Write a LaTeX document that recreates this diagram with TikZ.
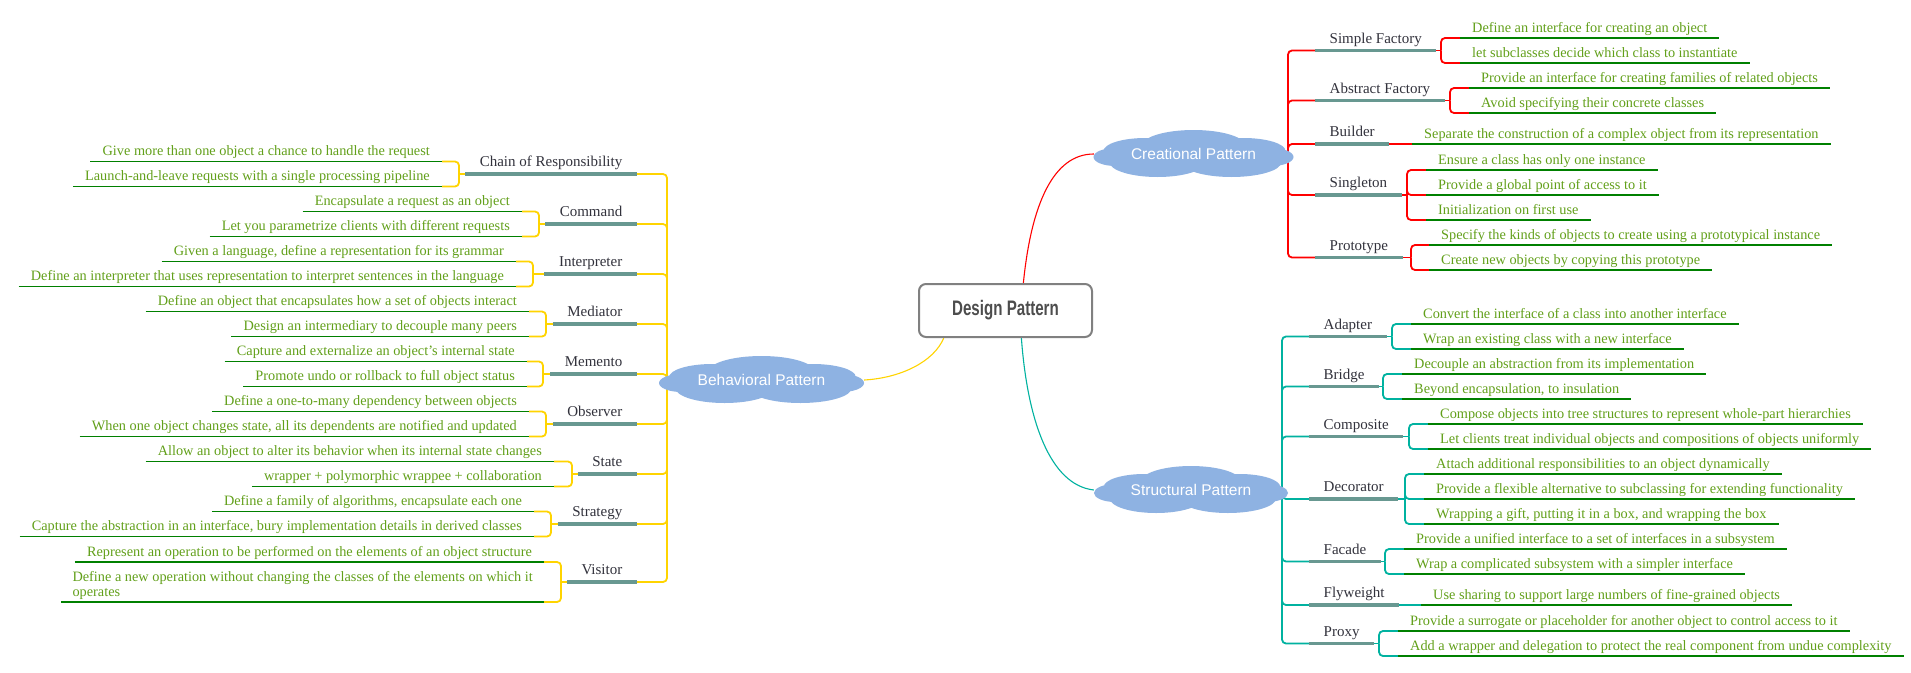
\documentclass[tikz,border=0pt]{standalone}
\usepackage{fontspec}
\setmainfont{Liberation Serif}
\newfontfamily\sansf{Liberation Sans}
\usepackage{graphicx}
\usetikzlibrary{backgrounds,calc}
\definecolor{cred}{RGB}{255,0,0}
\definecolor{cteal}{RGB}{0,178,160}
\definecolor{cyel}{RGB}{255,212,0}
\definecolor{cbar}{RGB}{104,152,145}
\definecolor{cgreen}{RGB}{0,128,0}
\definecolor{cleaf}{RGB}{98,160,26}
\definecolor{clabel}{RGB}{50,50,60}
\definecolor{ccloud}{RGB}{142,178,226}
\definecolor{cbox}{RGB}{128,128,128}
\definecolor{cboxt}{RGB}{77,77,77}
\tikzset{
 leafbase/.style={text=cleaf, font=\fontsize{14.3}{15}\selectfont, inner xsep=12pt, inner ysep=1.5pt, text depth=4pt},
 leafR/.style={leafbase, anchor=south west},
 leafL/.style={leafbase, anchor=south east},
 leafML/.style={text=cleaf, font=\fontsize{14.3}{15}\selectfont, inner xsep=11pt, inner ysep=2pt, anchor=south east, align=left},
 kidbase/.style={text=clabel, font=\fontsize{15}{17}\selectfont, inner xsep=14.5pt, inner ysep=3pt, text depth=4pt},
 kidR/.style={kidbase, anchor=south west},
 kidL/.style={kidbase, anchor=south east},
 cloudnode/.style={rectangle, draw=none, text=white, font=\sansf\fontsize{15.5}{18}\selectfont, inner sep=0pt},
 conn/.style={line width=1.8pt},
 bar/.style={line width=3.6pt, cbar},
 leafline/.style={line width=1.4pt, cgreen},
 rc/.style={rounded corners=4pt},
 link/.style={line width=1.1pt},
}
\newcommand\mybrR[4]{\draw[conn,#1] (#2.south east) -- (#3);
  \foreach \nn in {#4} {\draw[conn,#1,rc] (#3) |- (\nn.south west);}}
\newcommand\mybrL[4]{\draw[conn,#1] (#2.south west) -- (#3);
  \foreach \nn in {#4} {\draw[conn,#1,rc] (#3) |- (\nn.south east);}}
\newcommand\mycloudfill[2]{\fill[ccloud, shift={(#1.center)}, xscale=#2]
  (0,3) ellipse [x radius=100, y radius=12]
  (0,-8) ellipse [x radius=52, y radius=16]
  (-48,-3) ellipse [x radius=42, y radius=13]
  (50,-3) ellipse [x radius=42, y radius=13]
  (-36,8) ellipse [x radius=48, y radius=15]
  (38,8) ellipse [x radius=50, y radius=15]
  (-78,3) ellipse [x radius=22, y radius=9]
  (78,3) ellipse [x radius=22, y radius=9];}
\begin{document}
\begin{tikzpicture}[x=1pt,y=-1pt]
\useasboundingbox (0,0) rectangle (1911,672);

% centre
\node[draw=cbox, line width=2pt, rounded corners=7pt, minimum width=173pt, minimum height=53pt, text=cboxt, font=\sansf\bfseries\fontsize{21}{24}\selectfont, fill=white] (dp) at (1005.5,310.5) {\scalebox{0.72}[1]{Design Pattern}};

% clouds
\node[cloudnode, minimum width=199pt, minimum height=48pt] (cc) at (1193.5,154) {Creational Pattern};
\node[cloudnode, minimum width=194pt, minimum height=47pt] (sc) at (1191,490) {Structural Pattern};
\node[cloudnode, minimum width=205pt, minimum height=46pt] (bc) at (761.5,380) {Behavioral Pattern};

% ---------- Creational ----------
\node[kidR] (sf) at (1315,50.5) {Simple Factory};
\node[kidR] (af) at (1315,100.5) {Abstract Factory};
\node[kidR] (bu) at (1315,144) {Builder};
\node[kidR] (si) at (1315,195) {Singleton};
\node[kidR] (pr) at (1315,257.5) {Prototype};

\node[leafR] (sf1) at (1460,38) {Define an interface for creating an object};
\node[leafR] (sf2) at (1460,63) {let subclasses decide which class to instantiate};
\node[leafR] (af1) at (1469,88) {Provide an interface for creating families of related objects};
\node[leafR] (af2) at (1469,113) {Avoid specifying their concrete classes};
\node[leafR] (bu1) at (1412,144) {Separate the construction of a complex object from its representation};
\node[leafR] (si1) at (1426,170) {Ensure a class has only one instance};
\node[leafR] (si2) at (1426,195) {Provide a global point of access to it};
\node[leafR] (si3) at (1426,220) {Initialization on first use};
\node[leafR] (pr1) at (1429,245) {Specify the kinds of objects to create using a prototypical instance};
\node[leafR] (pr2) at (1429,270) {Create new objects by copying this prototype};

\coordinate (cbus) at (1288,154);
\coordinate (sfb) at (1441,50.5);
\coordinate (afb) at (1450,100.5);
\coordinate (sib) at (1407,195);
\coordinate (prb) at (1411,257.5);

% ---------- Structural ----------
\node[kidR] (ad) at (1309,336.5) {Adapter};
\node[kidR] (br) at (1309,386.5) {Bridge};
\node[kidR] (co) at (1309,436.5) {Composite};
\node[kidR] (de) at (1309,499) {Decorator};
\node[kidR] (fa) at (1309,561.5) {Facade};
\node[kidR] (fl) at (1309,605) {Flyweight};
\node[kidR] (px) at (1309,643.5) {Proxy};

\node[leafR] (ad1) at (1411,324) {Convert the interface of a class into another interface};
\node[leafR] (ad2) at (1411,349) {Wrap an existing class with a new interface};
\node[leafR] (br1) at (1402,374) {Decouple an abstraction from its implementation};
\node[leafR] (br2) at (1402,399) {Beyond encapsulation, to insulation};
\node[leafR] (co1) at (1428,424) {Compose objects into tree structures to represent whole-part hierarchies};
\node[leafR] (co2) at (1428,449) {Let clients treat individual objects and compositions of objects uniformly};
\node[leafR] (de1) at (1424,474) {Attach additional responsibilities to an object dynamically};
\node[leafR] (de2) at (1424,499) {Provide a flexible alternative to subclassing for extending functionality};
\node[leafR] (de3) at (1424,524) {Wrapping a gift, putting it in a box, and wrapping the box};
\node[leafR] (fa1) at (1404,549) {Provide a unified interface to a set of interfaces in a subsystem};
\node[leafR] (fa2) at (1404,574) {Wrap a complicated subsystem with a simpler interface};
\node[leafR] (fl1) at (1421,605) {Use sharing to support large numbers of fine-grained objects};
\node[leafR] (px1) at (1398,631) {Provide a surrogate or placeholder for another object to control access to it};
\node[leafR] (px2) at (1398,656) {Add a wrapper and delegation to protect the real component from undue complexity};

\coordinate (sbus) at (1282,490);
\coordinate (adb) at (1392,336.5);
\coordinate (brb) at (1383,386.5);
\coordinate (cob) at (1409,436.5);
\coordinate (deb) at (1405,499);
\coordinate (fab) at (1385,561.5);
\coordinate (pxb) at (1379,643.5);

% ---------- Behavioral ----------
\node[kidL] (ch) at (637,174) {Chain of Responsibility};
\node[kidL] (cm) at (637,224) {Command};
\node[kidL] (ip) at (637,274) {Interpreter};
\node[kidL] (me) at (637,324) {Mediator};
\node[kidL] (mm) at (637,374) {Memento};
\node[kidL] (ob) at (637,424) {Observer};
\node[kidL] (st) at (637,474) {State};
\node[kidL] (sg) at (637,524) {Strategy};
\node[kidL] (vi) at (637,582) {Visitor};

\node[leafL] (ch1) at (442,161.5) {Give more than one object a chance to handle the request};
\node[leafL] (ch2) at (442,186.5) {Launch-and-leave requests with a single processing pipeline};
\node[leafL] (cm1) at (522,211.5) {Encapsulate a request as an object};
\node[leafL] (cm2) at (522,236.5) {Let you parametrize clients with different requests};
\node[leafL] (ip1) at (516,261.5) {Given a language, define a representation for its grammar};
\node[leafL] (ip2) at (516,286.5) {Define an interpreter that uses representation to interpret sentences in the language};
\node[leafL] (me1) at (529,311.5) {Define an object that encapsulates how a set of objects interact};
\node[leafL] (me2) at (529,336.5) {Design an intermediary to decouple many peers};
\node[leafL] (mm1) at (527,361.5) {Capture and externalize an object{\char39}s internal state};
\node[leafL] (mm2) at (527,386.5) {Promote undo or rollback to full object status};
\node[leafL] (ob1) at (529,411.5) {Define a one-to-many dependency between objects};
\node[leafL] (ob2) at (529,436.5) {When one object changes state, all its dependents are notified and updated};
\node[leafL] (st1) at (554,461.5) {Allow an object to alter its behavior when its internal state changes};
\node[leafL] (st2) at (554,486.5) {wrapper + polymorphic wrappee + collaboration};
\node[leafL] (sg1) at (534,511.5) {Define a family of algorithms, encapsulate each one};
\node[leafL] (sg2) at (534,536.5) {Capture the abstraction in an interface, bury implementation details in derived classes};
\node[leafL] (vi1) at (544,562) {Represent an operation to be performed on the elements of an object structure};
\node[leafML] (vi2) at (544,602) {Define a new operation without changing the classes of the elements on which it\\operates};

\coordinate (bbus) at (667,380);
\coordinate (chb) at (459,174);
\coordinate (cmb) at (539,224);
\coordinate (ipb) at (533,274);
\coordinate (meb) at (546,324);
\coordinate (mmb) at (543,374);
\coordinate (obb) at (546,424);
\coordinate (stb) at (572,474);
\coordinate (sgb) at (551,524);
\coordinate (vib) at (561,582);

\begin{scope}[on background layer]
\fill[white] (0,0) rectangle (1911,672);
% links from centre
\draw[link,cred] (dp.57) .. controls +(8,-80) and +(-40,0) .. (cc.west);
\draw[link,cteal] (dp.-60) .. controls +(6,82) and +(-44,-5) .. (sc.west);
\draw[link,cyel] (dp.-156) .. controls +(-10,24) and +(36,-2) .. (bc.east);

% buses
\foreach \nn in {sf,af,bu,si,pr} {\draw[conn,cred,rc] (cbus) |- (\nn.south west);}
\foreach \nn in {ad,br,co,de,fa,fl,px} {\draw[conn,cteal,rc] (sbus) |- (\nn.south west);}
\foreach \nn in {ch,cm,ip,me,mm,ob,st,sg,vi} {\draw[conn,cyel,rc] (bbus) |- (\nn.south east);}

% brackets
\mybrR{cred}{sf}{sfb}{sf1,sf2}
\mybrR{cred}{af}{afb}{af1,af2}
\draw[conn,cred] (bu.south east) -- (bu1.south west);
\mybrR{cred}{si}{sib}{si1,si2,si3}
\mybrR{cred}{pr}{prb}{pr1,pr2}

\mybrR{cteal}{ad}{adb}{ad1,ad2}
\mybrR{cteal}{br}{brb}{br1,br2}
\mybrR{cteal}{co}{cob}{co1,co2}
\mybrR{cteal}{de}{deb}{de1,de2,de3}
\mybrR{cteal}{fa}{fab}{fa1,fa2}
\draw[conn,cteal] (fl.south east) -- (fl1.south west);
\mybrR{cteal}{px}{pxb}{px1,px2}

\mybrL{cyel}{ch}{chb}{ch1,ch2}
\mybrL{cyel}{cm}{cmb}{cm1,cm2}
\mybrL{cyel}{ip}{ipb}{ip1,ip2}
\mybrL{cyel}{me}{meb}{me1,me2}
\mybrL{cyel}{mm}{mmb}{mm1,mm2}
\mybrL{cyel}{ob}{obb}{ob1,ob2}
\mybrL{cyel}{st}{stb}{st1,st2}
\mybrL{cyel}{sg}{sgb}{sg1,sg2}
\mybrL{cyel}{vi}{vib}{vi1,vi2}

% child underlines
\foreach \nn in {sf,af,bu,si,pr,ad,br,co,de,fa,fl,px,ch,cm,ip,me,mm,ob,st,sg,vi}
  {\draw[bar] (\nn.south west) -- (\nn.south east);}
% leaf underlines
\foreach \nn in {sf1,sf2,af1,af2,bu1,si1,si2,si3,pr1,pr2,
  ad1,ad2,br1,br2,co1,co2,de1,de2,de3,fa1,fa2,fl1,px1,px2,
  ch1,ch2,cm1,cm2,ip1,ip2,me1,me2,mm1,mm2,ob1,ob2,st1,st2,sg1,sg2,vi1,vi2}
  {\draw[leafline] (\nn.south west) -- (\nn.south east);}
% cloud bodies
\mycloudfill{cc}{1}
\mycloudfill{sc}{0.97}
\mycloudfill{bc}{1.025}
\end{scope}
\end{tikzpicture}
\end{document}
